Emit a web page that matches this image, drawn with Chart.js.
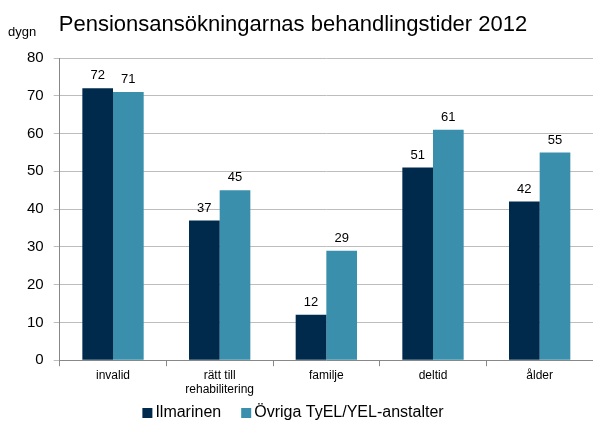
<!DOCTYPE html>
<html>
<head>
<meta charset="utf-8">
<script src="https://cdn.jsdelivr.net/npm/chart.js@4/dist/chart.umd.min.js"></script>
<style>
  html, body { margin: 0; padding: 0; background: #fff; }
  #wrap { width: 593px; height: 425px; }
</style>
</head>
<body>
<div id="wrap"><canvas id="chart" width="593" height="425"></canvas></div>
<script>
const categories = ["invalid", ["rätt till", "rehabilitering"], "familje", "deltid", "ålder"];
const ilmarinen = [72, 37, 12, 51, 42];
const ovriga = [71, 45, 29, 61, 55];
const yTicks = [0, 10, 20, 30, 40, 50, 60, 70, 80];
const titleText = "Pensionsansökningarnas behandlingstider 2012";

const FONT = "'Liberation Sans', Arial, sans-serif";

// title, value labels above each bar, the "dygn" unit text and a compact legend
const extras = {
  id: "extras",
  afterDatasetsDraw(chart) {
    const ctx = chart.ctx;
    ctx.save();
    ctx.fillStyle = "#000";
    ctx.font = "22px " + FONT;
    ctx.textAlign = "center";
    ctx.textBaseline = "middle";
    ctx.fillText(titleText, 293, 25);

    ctx.font = "13px " + FONT;
    ctx.textBaseline = "bottom";
    chart.data.datasets.forEach((ds, i) => {
      chart.getDatasetMeta(i).data.forEach((bar, j) => {
        ctx.fillText(String(ds.data[j]), bar.x, bar.y - 6);
      });
    });
    ctx.textAlign = "left";
    ctx.textBaseline = "middle";
    ctx.fillText("dygn", 8, 32);

    // legend, centred under the chart
    ctx.font = "16px " + FONT;
    const items = chart.data.datasets.map((ds) => ({
      text: ds.label, color: ds.backgroundColor, w: ctx.measureText(ds.label).width,
    }));
    const box = 10, gap = 3, between = 20, y = 413;
    const total = items.reduce((s, it) => s + box + gap + it.w, 0) + between * (items.length - 1);
    let x = 293 - total / 2;
    items.forEach((it) => {
      ctx.fillStyle = it.color;
      ctx.fillRect(x, y - box / 2, box, box);
      ctx.fillStyle = "#000";
      ctx.fillText(it.text, x + box + gap, y);
      x += box + gap + it.w + between;
    });
    ctx.restore();
  },
};

new Chart(document.getElementById("chart").getContext("2d"), {
  type: "bar",
  data: {
    labels: categories,
    datasets: [
      { label: "Ilmarinen", data: ilmarinen, backgroundColor: "#002a4c",
        categoryPercentage: 0.575, barPercentage: 1 },
      { label: "Övriga TyEL/YEL-anstalter", data: ovriga, backgroundColor: "#3a8fac",
        categoryPercentage: 0.575, barPercentage: 1 },
    ],
  },
  options: {
    responsive: false,
    animation: false,
    // the original plot runs a few pixels past the right edge
    layout: { padding: { left: 17, right: -11, top: 58, bottom: 26 } },
    plugins: {
      legend: { display: false },
      tooltip: { enabled: false },
    },
    scales: {
      x: {
        grid: { display: true, drawOnChartArea: false, offset: true, tickLength: 6, color: "#888" },
        border: { color: "#888" },
        ticks: { color: "#000", font: { family: FONT, size: 12 }, padding: 2 },
      },
      y: {
        min: 0,
        max: 80,
        afterBuildTicks: (s) => { s.ticks = yTicks.map((v) => ({ value: v })); },
        grid: { color: "#bdbdbd", tickLength: 6 },
        border: { color: "#888" },
        ticks: { color: "#000", font: { family: FONT, size: 15 }, padding: 10 },
      },
    },
  },
  plugins: [extras],
});
</script>
</body>
</html>
